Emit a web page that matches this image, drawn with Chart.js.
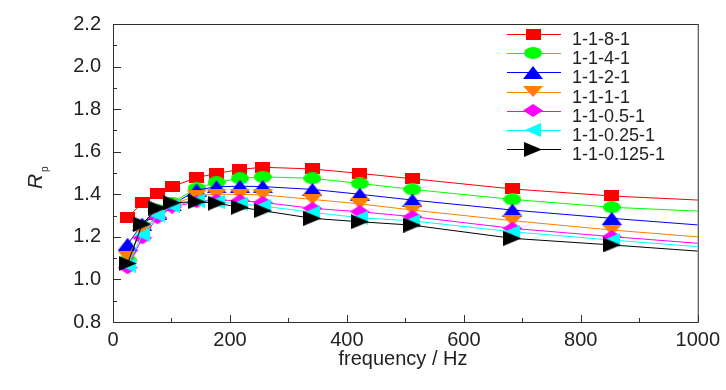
<!DOCTYPE html>
<html>
<head>
<meta charset="utf-8">
<script src="https://cdn.jsdelivr.net/npm/chart.js@4.4.0/dist/chart.umd.min.js"></script>
<style>
html, body { margin: 0; background: #fff; }
#wrap { width: 726px; height: 390px; position: relative; }
</style>
</head>
<body>
<div id="wrap"><canvas id="chart"></canvas></div>
<script>
// --- data ---
const freq = [25, 50, 76, 101, 143, 177, 217, 256, 341, 422, 512, 683, 853, 1000];

const r8     = [1.290, 1.360, 1.405, 1.436, 1.478, 1.498, 1.517, 1.527, 1.519, 1.498, 1.473, 1.425, 1.392, 1.373];
const r4     = [1.090, 1.250, 1.325, 1.360, 1.428, 1.456, 1.475, 1.482, 1.475, 1.451, 1.423, 1.376, 1.339, 1.321];
const r2     = [1.165, 1.260, 1.310, 1.350, 1.420, 1.435, 1.438, 1.436, 1.423, 1.400, 1.373, 1.326, 1.287, 1.256];
const r1     = [1.107, 1.224, 1.300, 1.350, 1.395, 1.400, 1.400, 1.397, 1.376, 1.355, 1.326, 1.276, 1.232, 1.200];
const r05    = [1.055, 1.195, 1.290, 1.340, 1.365, 1.373, 1.370, 1.362, 1.334, 1.318, 1.295, 1.240, 1.201, 1.170];
const r025   = [1.065, 1.210, 1.300, 1.345, 1.370, 1.365, 1.355, 1.345, 1.315, 1.290, 1.275, 1.224, 1.185, 1.154];
const r0125  = [1.075, 1.260, 1.335, 1.360, 1.365, 1.358, 1.339, 1.323, 1.287, 1.271, 1.255, 1.193, 1.162, 1.133];

const names  = ["1-1-8-1", "1-1-4-1", "1-1-2-1", "1-1-1-1", "1-1-0.5-1", "1-1-0.25-1", "1-1-0.125-1"];
const series = [r8, r4, r2, r1, r05, r025, r0125];
const colors = ["#ff0000", "#00ff00", "#0000ff", "#ff8000", "#ff00ff", "#00ffff", "#000000"];

const FONT = "'Liberation Sans', Arial, sans-serif";

// marker images (shapes are a bit flattened in the original)
function marker(w, h, color, shape) {
    const c = document.createElement("canvas");
    c.width = w; c.height = h;
    const g = c.getContext("2d");
    g.fillStyle = color;
    g.beginPath();
    shape(g, w, h);
    g.closePath();
    g.fill();
    return c;
}
const markers = [
    marker(15, 11, colors[0], (g, w, h) => g.rect(0, 0, w, h)),
    marker(18, 12, colors[1], (g, w, h) => g.ellipse(w / 2, h / 2, w / 2, h / 2, 0, 0, Math.PI * 2)),
    marker(20, 13, colors[2], (g, w, h) => { g.moveTo(w / 2, 0); g.lineTo(w, h); g.lineTo(0, h); }),
    marker(20, 11, colors[3], (g, w, h) => { g.moveTo(0, 0); g.lineTo(w, 0); g.lineTo(w / 2, h); }),
    marker(20, 13, colors[4], (g, w, h) => { g.moveTo(w / 2, 0); g.lineTo(w, h / 2); g.lineTo(w / 2, h); g.lineTo(0, h / 2); }),
    marker(16, 14, colors[5], (g, w, h) => { g.moveTo(0, h / 2); g.lineTo(w, 0); g.lineTo(w, h); }),
    marker(18, 15, colors[6], (g, w, h) => { g.moveTo(0, 0); g.lineTo(w, h / 2); g.lineTo(0, h); })
];

const datasets = series.map((vals, i) => ({
    label: names[i],
    data: freq.map((f, k) => ({ x: f, y: vals[k] })),
    borderColor: colors[i],
    backgroundColor: colors[i],
    borderWidth: 1,
    tension: 0,
    pointStyle: markers[i],
    pointRadius: freq.map((f, k) => k === freq.length - 1 ? 0 : 5),
    pointHoverRadius: 0,
    order: series.length - 1 - i
}));

// frame, inward ticks, axis titles and legend
const decor = {
    id: "decor",
    afterDraw(chart) {
        const ctx = chart.ctx, a = chart.chartArea;
        const xs = chart.scales.x, ys = chart.scales.y;
        ctx.save();
        ctx.strokeStyle = "#2a342a";
        ctx.lineWidth = 1;
        ctx.strokeRect(a.left + 0.5, a.top + 0.5, a.right - a.left, a.bottom - a.top);

        ctx.beginPath();
        for (let v = 0; v <= 1000; v += 100) {
            const px = Math.round(xs.getPixelForValue(v)) + 0.5;
            const len = v % 200 === 0 ? 7 : 4;
            ctx.moveTo(px, a.bottom); ctx.lineTo(px, a.bottom - len);
        }
        for (let k = 8; k <= 22; k++) {
            const py = Math.round(ys.getPixelForValue(k / 10)) + 0.5;
            const len = k % 2 === 0 ? 8 : 4;
            ctx.moveTo(a.left, py); ctx.lineTo(a.left + len, py);
        }
        ctx.stroke();

        // x title
        ctx.fillStyle = "#222";
        ctx.font = "20px " + FONT;
        ctx.textAlign = "center";
        ctx.textBaseline = "alphabetic";
        ctx.fillText("frequency / Hz", 403, 365);

        // y title R_p
        ctx.save();
        ctx.translate(42, 189);
        ctx.rotate(-Math.PI / 2);
        ctx.textAlign = "left";
        ctx.font = "italic 21px " + FONT;
        ctx.fillText("R", 0, 0);
        ctx.font = "10px " + FONT;
        ctx.fillText("p", 17, 6);
        ctx.restore();

        // legend
        ctx.font = "18px " + FONT;
        ctx.textAlign = "left";
        names.forEach((n, i) => {
            const y = 34 + i * 19.2;
            ctx.strokeStyle = colors[i];
            ctx.beginPath();
            ctx.moveTo(507, Math.round(y) + 0.5);
            ctx.lineTo(561, Math.round(y) + 0.5);
            ctx.stroke();
            const m = markers[i];
            ctx.drawImage(m, Math.round(533 - m.width / 2), Math.round(y - m.height / 2));
            ctx.fillStyle = "#222";
            ctx.fillText(n, 572, y + 11);
        });
        ctx.restore();
    }
};

new Chart(document.getElementById("chart"), {
    type: "line",
    data: { datasets },
    options: {
        responsive: true,
        maintainAspectRatio: false,
        animation: false,
        layout: { padding: { top: 23, right: 28, left: 0, bottom: 0 } },
        plugins: { legend: { display: false }, tooltip: { enabled: false } },
        scales: {
            x: {
                type: "linear",
                min: 0, max: 1000,
                grid: { display: false, drawTicks: false },
                border: { display: false },
                ticks: { stepSize: 200, padding: 6, color: "#222", font: { family: FONT, size: 20 }, maxRotation: 0,
                         callback: v => String(v) },
                afterFit: s => { s.height = 68; }
            },
            y: {
                min: 0.8, max: 2.2,
                grid: { display: false, drawTicks: false },
                border: { display: false },
                ticks: { stepSize: 0.2, padding: 12, color: "#222", font: { family: FONT, size: 20 },
                         callback: v => v.toFixed(1) },
                afterFit: s => { s.width = 113; }
            }
        }
    },
    plugins: [decor]
});
</script>
</body>
</html>
